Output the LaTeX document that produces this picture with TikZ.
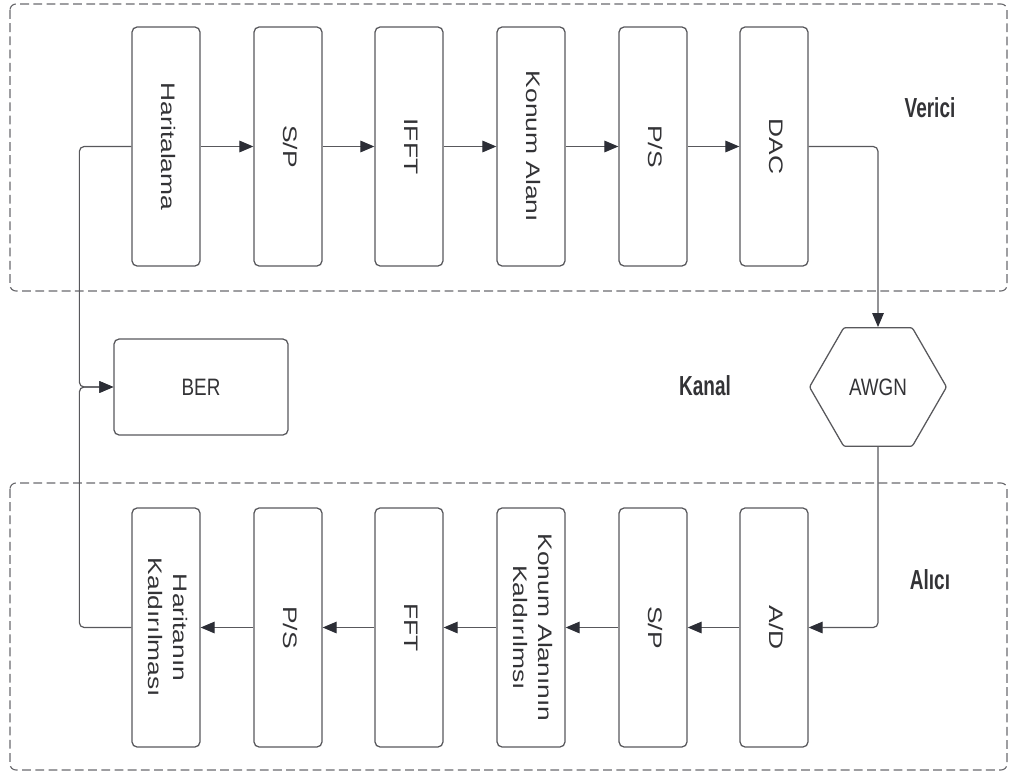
\documentclass[tikz,border=0pt]{standalone}
\usepackage{fontspec}
\usepackage{graphicx}
\setmainfont{Liberation Sans}
\usetikzlibrary{arrows.meta,shapes.geometric}

\definecolor{edge}{HTML}{58585C}
\definecolor{tip}{HTML}{2C2E36}
\definecolor{ink}{HTML}{333336}
\definecolor{frame}{HTML}{6A6A6E}

% vertical block label, read top to bottom
\newcommand{\rlab}[1]{\scalebox{1}[1.35]{\rotatebox{-90}{\begin{tabular}{@{}c@{}}#1\end{tabular}}}}
% upright label, slightly tall
\newcommand{\ulab}[2]{\scalebox{1}[#1]{#2}}

\tikzset{
  stage/.style={draw=edge, line width=0.9pt, rounded corners=0.13cm,
    minimum width=1.7cm, minimum height=5.975cm, inner sep=0pt,
    text=ink, font=\fontsize{13.9}{17.3}\selectfont},
  berbox/.style={draw=edge, line width=0.9pt, rounded corners=0.13cm,
    minimum width=4.35cm, minimum height=2.4cm, inner sep=0pt,
    text=ink, font=\fontsize{13.4}{15}\selectfont},
  hexa/.style={draw=edge, line width=0.9pt, regular polygon, regular polygon sides=6,
    minimum size=3.425cm, inner sep=0pt, rounded corners=1.5pt,
    text=ink, font=\fontsize{13.4}{15}\selectfont},
  section/.style={text=ink, font=\fontsize{13.5}{15}\selectfont\bfseries, inner sep=0pt},
  zone/.style={draw=frame, line width=0.8pt, dash pattern=on 0.22cm off 0.11cm, rounded corners=0.15cm},
  conn/.style={draw=edge, line width=0.85pt, rounded corners=0.12cm,
    -{Triangle[length=0.35cm, width=0.29cm, color=tip, fill=tip]}}
}

\begin{document}
\begin{tikzpicture}[x=0.025cm, y=-0.025cm]
  \useasboundingbox (0,0) rectangle (1010,776);

  % transmitter and receiver zones
  \draw[zone] (10,4) rectangle (1007,291);
  \draw[zone] (10,483) rectangle (1007,770);

  % transmitter chain
  \node[stage] (har)  at (166,146.5) {\rlab{Haritalama}};
  \node[stage] (sp1)  at (288,146.5) {\rlab{S/P}};
  \node[stage] (ifft) at (409,146.5) {\rlab{IFFT}};
  \node[stage] (ka)   at (531,146.5) {\rlab{Konum Alanı}};
  \node[stage] (ps1)  at (653,146.5) {\rlab{P/S}};
  \node[stage] (dac)  at (774,146.5) {\rlab{DAC}};

  % receiver chain
  \node[stage] (hk)   at (166,627.5) {\rlab{Haritanın\\Kaldırılması}};
  \node[stage] (ps2)  at (288,627.5) {\rlab{P/S}};
  \node[stage] (fft)  at (409,627.5) {\rlab{FFT}};
  \node[stage] (kak)  at (531,627.5) {\rlab{Konum Alanının\\Kaldırılmsı}};
  \node[stage] (sp2)  at (653,627.5) {\rlab{S/P}};
  \node[stage] (ad)   at (774,627.5) {\rlab{A/D}};

  % channel and error rate
  \node[hexa] (awgn) at (878,387) {\ulab{1.26}{AWGN}};
  \node[berbox] (ber) at (201,387) {\ulab{1.26}{BER}};

  % section titles
  \node[section] (tverici) at (930,108) {\ulab{1.45}{Verici}};
  \node[section] (tkanal)  at (705,386) {\ulab{1.45}{Kanal}};
  \node[section] (talici)  at (930,580) {\ulab{1.45}{Alıcı}};

  % forward signal path
  \draw[conn] (har.east) -- (sp1.west);
  \draw[conn] (sp1.east) -- (ifft.west);
  \draw[conn] (ifft.east) -- (ka.west);
  \draw[conn] (ka.east) -- (ps1.west);
  \draw[conn] (ps1.east) -- (dac.west);
  \draw[conn] (dac.east) -| (awgn.north);
  \draw[conn] (awgn.south) |- (ad.east);
  \draw[conn] (ad.west) -- (sp2.east);
  \draw[conn] (sp2.west) -- (kak.east);
  \draw[conn] (kak.west) -- (fft.east);
  \draw[conn] (fft.west) -- (ps2.east);
  \draw[conn] (ps2.west) -- (hk.east);

  % sent and recovered bits compared in BER
  \draw[conn] (har.west) -- ++(-52,0) |- (ber.west);
  \draw[conn] (hk.west) -- ++(-52,0) |- (ber.west);
\end{tikzpicture}
\end{document}
